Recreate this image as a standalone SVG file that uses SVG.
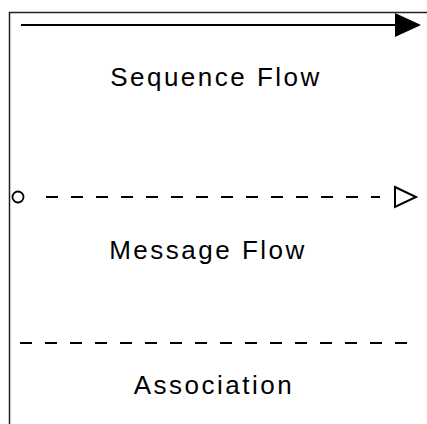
<svg xmlns="http://www.w3.org/2000/svg" width="427" height="424" viewBox="0 0 427 424">
<style>
.lbl{font-family:"Liberation Sans",Arial,sans-serif;font-size:26px;fill:#000;text-anchor:middle;letter-spacing:2.5px}
.border{stroke:#222;stroke-width:1.5;fill:none}
.ln{stroke:#000;stroke-width:2;fill:none}
.dash{stroke:#000;stroke-width:2.2;fill:none;stroke-dasharray:12 13}
</style>
<rect width="427" height="424" fill="#fff"/>
<g id="frame">
<path class="border" d="M9.5,424 V12.5 H427"/>
</g>
<g id="connectors">
<g id="sequence-flow">
<line class="ln" x1="21" y1="25" x2="396" y2="25"/>
<polygon points="395,13 421,25 395,37" fill="#000"/>
</g>
<g id="message-flow">
<circle cx="18" cy="197" r="5.5" fill="#fff" stroke="#000" stroke-width="1.8"/>
<line class="dash" x1="46" y1="197" x2="380" y2="197"/>
<polygon points="395,187 416,197 395,207" fill="#fff" stroke="#000" stroke-width="2"/>
</g>
<g id="association">
<line class="dash" x1="20" y1="343" x2="412" y2="343"/>
</g>
</g>
<g id="labels">
<text class="lbl" x="216" y="86">Sequence Flow</text>
<text class="lbl" x="208" y="259">Message Flow</text>
<text class="lbl" x="214" y="394">Association</text>
</g>
</svg>
